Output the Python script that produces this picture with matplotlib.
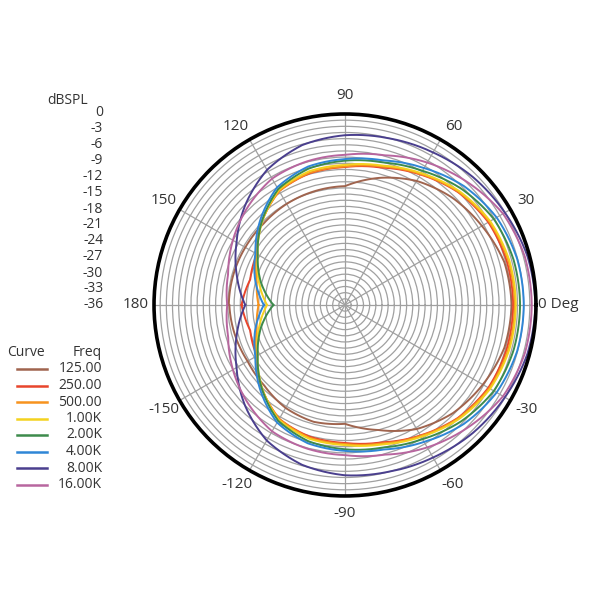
import numpy as np
import matplotlib.pyplot as plt

# angles in degrees, -180 .. 180 every 15 deg
angles = [-180, -165, -150, -135, -120, -105, -90, -75, -60, -45, -30, -15,
          0, 15, 30, 45, 60, 75, 90, 105, 120, 135, 150, 165, 180]

# dBSPL, one list per curve
spl_125 = [-14.2, -14.5, -14.8, -14.5, -13.6, -13.2, -13.6, -11.6, -9.0, -7.2, -6.0, -4.9,
           -4.6, -4.9, -6.2, -7.4, -9.0, -11.2, -13.6, -13.8, -14.0, -14.3, -14.3, -14.2, -14.1]
spl_250 = [-16.5, -17.5, -16.8, -13.8, -11.2, -10.3, -10.0, -9.2, -7.6, -5.9, -4.8, -4.4,
           -4.3, -4.4, -4.8, -5.9, -7.6, -9.2, -10.0, -10.3, -11.2, -13.8, -16.8, -17.5, -16.5]
spl_500 = [-19.7, -18.8, -16.8, -13.8, -11.2, -10.1, -9.8, -9.0, -7.5, -5.8, -4.6, -4.1,
           -4.0, -4.1, -4.6, -5.8, -7.5, -9.0, -9.9, -10.2, -11.2, -13.8, -16.8, -18.8, -19.7]
spl_1k = [-21.3, -19.2, -17.0, -13.9, -11.0, -9.9, -9.6, -8.8, -7.3, -5.6, -4.4, -3.9,
          -3.8, -3.9, -4.4, -5.6, -7.3, -8.8, -9.6, -9.9, -11.0, -13.9, -17.0, -19.2, -21.3]
spl_2k = [-22.5, -19.6, -17.0, -13.8, -10.8, -9.4, -8.8, -8.2, -6.8, -5.0, -3.6, -3.1,
          -3.0, -3.1, -3.6, -5.0, -6.8, -8.2, -8.8, -9.4, -10.8, -13.8, -17.0, -19.6, -22.5]
spl_4k = [-20.7, -18.5, -16.5, -13.4, -10.4, -9.0, -8.5, -7.8, -6.2, -4.3, -3.0, -2.4,
          -2.3, -2.4, -3.0, -4.3, -6.2, -7.8, -8.5, -9.0, -10.4, -13.4, -16.5, -18.5, -20.7]
spl_8k = [-17.2, -14.9, -12.4, -9.3, -6.5, -4.8, -3.9, -3.5, -2.8, -1.9, -1.2, -0.4,
          -0.1, -0.4, -1.2, -1.9, -2.8, -3.5, -4.0, -4.8, -6.6, -9.4, -12.4, -14.9, -17.2]
spl_16k = [-13.8, -13.2, -11.6, -10.0, -8.5, -8.0, -7.7, -6.8, -5.0, -3.3, -1.6, -0.9,
           -0.8, -0.9, -1.6, -3.3, -5.0, -6.8, -7.7, -8.0, -8.5, -10.0, -11.6, -13.2, -13.8]

freq_labels = ["125.00", "250.00", "500.00", "1.00K", "2.00K", "4.00K", "8.00K", "16.00K"]
curve_colors = ["#a0644e", "#e8452c", "#f7931e", "#f4d21f", "#3d8b4c", "#2f86d6", "#4a3f8e", "#b8669f"]
curves = [spl_125, spl_250, spl_500, spl_1k, spl_2k, spl_4k, spl_8k, spl_16k]

db_ticks = [0, -3, -6, -9, -12, -15, -18, -21, -24, -27, -30, -33, -36]
angle_labels = ["0 Deg", "30", "60", "90", "120", "150", "180", "-150", "-120", "-90", "-60", "-30"]
n_rings = 31

plt.rcParams['font.family'] = ['Open Sans', 'DejaVu Sans']
txt = "#333333"

fig = plt.figure(figsize=(6, 6), dpi=100)
ax = fig.add_axes([0.2567, 0.1734, 0.6366, 0.6366], projection='polar')
ax.set_theta_zero_location('E')
ax.set_ylim(-36, 0)
ax.set_rticks(np.linspace(-36, 0, n_rings + 1)[1:-1])
ax.set_yticklabels([])
ax.set_thetagrids(np.arange(0, 360, 30), [""] * 12)
ax.grid(True, color="#a0a0a0", linewidth=0.9)
ax.spines['polar'].set_linewidth(2.6)
ax.spines['polar'].set_color("black")

th = np.radians(angles)
for vals, col in zip(curves, curve_colors):
    ln, = ax.plot(th, vals, color=col, linewidth=1.4)
    # let the polar transform bend each segment along theta
    ln.get_path()._interpolation_steps = 30

# angle labels around the circle (placed a touch off the spokes like the original)
label_pos = [0, 30, 58.6, 90, 121.4, 150, 180, -150, -121, -90, -59, -30]
for a, lab in zip(label_pos, angle_labels):
    if lab == "0 Deg":
        ax.text(0, 0.4, lab, ha='left', va='center', fontsize=11, color=txt)
    else:
        ax.text(np.radians(a), 3.4, lab, ha='center', va='center', fontsize=11, color=txt)

# dB scale list on the left
fig.text(0.147, 1 - 100 / 600, "dBSPL", ha='right', va='center', fontsize=10, color=txt)
for i, d in enumerate(db_ticks):
    fig.text(0.172, 1 - (113 + i * 16) / 600, str(d), ha='right', va='center', fontsize=10, color=txt)

# legend table
fig.text(0.012, 1 - 352 / 600, "Curve", ha='left', va='center', fontsize=10, color=txt)
fig.text(0.170, 1 - 352 / 600, "Freq", ha='right', va='center', fontsize=10, color=txt)
for i, (lab, col) in enumerate(zip(freq_labels, curve_colors)):
    y = 1 - (369 + i * 16.5) / 600
    fig.add_artist(plt.Line2D([0.028, 0.078], [y, y], color=col, linewidth=1.8))
    fig.text(0.170, y, lab, ha='right', va='center', fontsize=10, color=txt)

fig.savefig("out.png", dpi=100)
